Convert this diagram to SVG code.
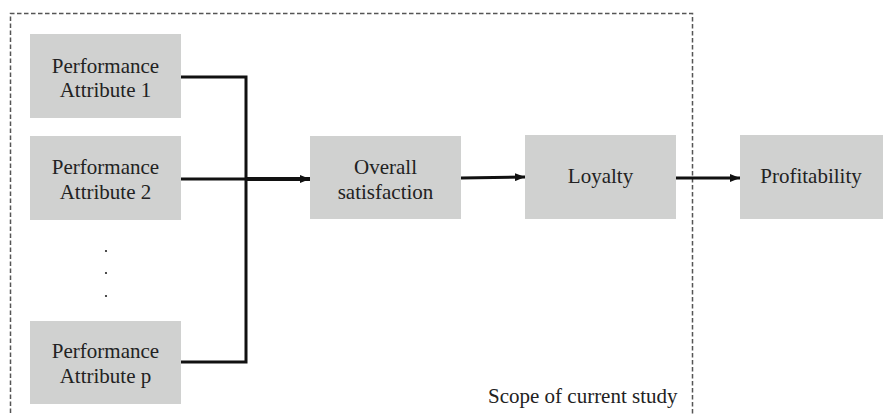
<svg xmlns="http://www.w3.org/2000/svg" width="883" height="415" viewBox="0 0 883 415">
  <style>
    .box { fill: #d0d1d0; }
    .lbl { font-family: "Liberation Serif", "Times New Roman", serif; font-size: 21px; fill: #222; text-anchor: middle; }
    .wire { fill: none; stroke: #111; stroke-width: 3; }
    .scope { fill: none; stroke: #555; stroke-width: 1.5; stroke-dasharray: 4.5 2.5; }
  </style>
  <defs>
    <marker id="head" viewBox="0 0 10 8" refX="10" refY="4" markerWidth="10" markerHeight="8" markerUnits="userSpaceOnUse" orient="auto">
      <path d="M0,0 L10,4 L0,8 Z" fill="#111"/>
    </marker>
  </defs>
  <rect width="883" height="415" fill="#fff"/>

  <!-- study scope frame -->
  <g id="scope">
    <path class="scope" d="M10.5,420 V13.5 H692.5 V420"/>
    <text class="lbl" x="488" y="403" style="text-anchor:start">Scope of current study</text>
  </g>

  <g id="attr1">
    <rect class="box" x="30" y="34" width="151" height="84"/>
    <text class="lbl" x="105.5" y="73">Performance</text>
    <text class="lbl" x="105.5" y="97">Attribute 1</text>
  </g>
  <g id="attr2">
    <rect class="box" x="30" y="136" width="151" height="84"/>
    <text class="lbl" x="105.5" y="174">Performance</text>
    <text class="lbl" x="105.5" y="199">Attribute 2</text>
  </g>
  <g id="ellipsis">
    <circle cx="106" cy="251" r="1.1" fill="#222"/>
    <circle cx="106" cy="273" r="1.1" fill="#222"/>
    <circle cx="106" cy="296" r="1.1" fill="#222"/>
  </g>
  <g id="attrp">
    <rect class="box" x="30" y="321" width="151" height="83"/>
    <text class="lbl" x="105.5" y="358">Performance</text>
    <text class="lbl" x="105.5" y="383">Attribute p</text>
  </g>
  <g id="satisfaction">
    <rect class="box" x="310" y="136" width="151" height="83"/>
    <text class="lbl" x="385.5" y="174">Overall</text>
    <text class="lbl" x="385.5" y="199">satisfaction</text>
  </g>
  <g id="loyalty">
    <rect class="box" x="525" y="135" width="151" height="84"/>
    <text class="lbl" x="600.5" y="183">Loyalty</text>
  </g>
  <g id="profitability">
    <rect class="box" x="740" y="135" width="143" height="84"/>
    <text class="lbl" x="811" y="183">Profitability</text>
  </g>

  <g id="connectors">
    <path class="wire" d="M181,77 H246 V362 H181"/>
    <path class="wire" d="M181,179 H246"/>
    <path class="wire" style="stroke-width:4" d="M246,179 H310" marker-end="url(#head)"/>
    <path class="wire" d="M461,178 L525,177" marker-end="url(#head)"/>
    <path class="wire" d="M676,178 H740" marker-end="url(#head)"/>
  </g>
</svg>
